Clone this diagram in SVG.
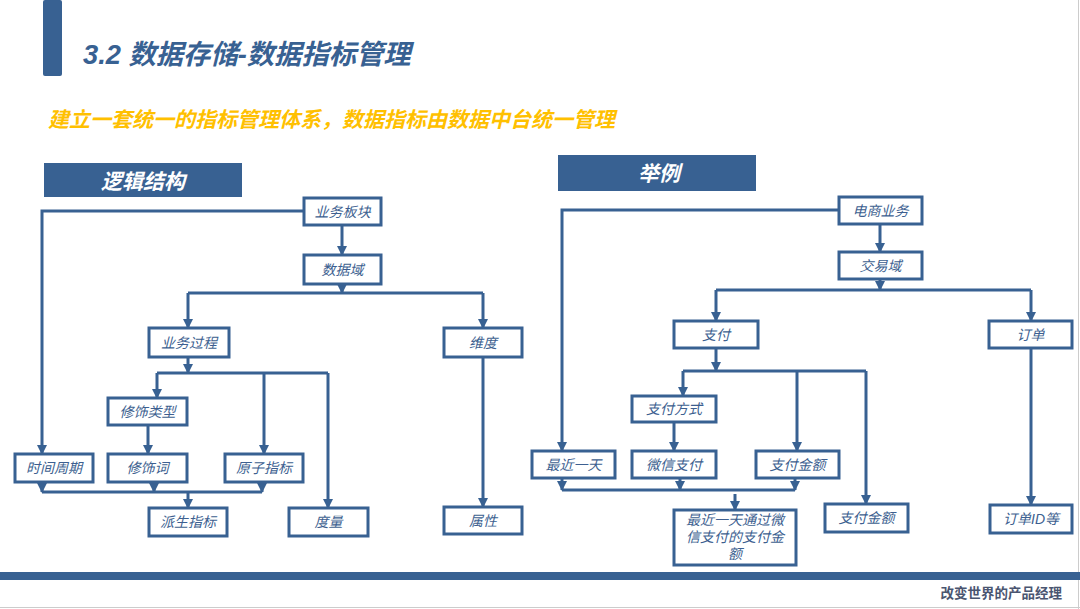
<svg xmlns="http://www.w3.org/2000/svg" width="1080" height="609" viewBox="0 0 1080 609">
<defs>
<marker id="ah" markerUnits="userSpaceOnUse" markerWidth="10" markerHeight="10" viewBox="0 0 10 10" refX="9" refY="5" orient="auto">
<path d="M0,0 L10,5 L0,10 z" fill="#386192"/>
</marker>
<style>
.box{fill:#fff;stroke:#386192;stroke-width:3}
.lbl{font-family:"Liberation Sans","Noto Sans CJK SC",sans-serif;font-size:14px;font-style:italic;fill:#3d5f90;text-anchor:middle;dominant-baseline:central}
.c{fill:none;stroke:#386192;stroke-width:3}
.a{fill:none;stroke:#386192;stroke-width:3;marker-end:url(#ah)}
.hdr{fill:#386192}
.hdrt{font-family:"Liberation Sans","Noto Sans CJK SC",sans-serif;font-size:21px;font-weight:bold;font-style:italic;fill:#fff;text-anchor:middle;dominant-baseline:central}
</style>
</defs>
<rect width="1080" height="609" fill="#fff"/>
<line x1="1078.5" y1="0" x2="1078.5" y2="609" stroke="#cccccc" stroke-width="1"/>
<line x1="0" y1="607.5" x2="1080" y2="607.5" stroke="#cccccc" stroke-width="1"/>
<rect x="43" y="0" width="19" height="76" rx="2" fill="#386192"/>
<text x="83" y="64" font-family="'Liberation Sans','Noto Sans CJK SC',sans-serif" font-size="27.3" font-weight="bold" font-style="italic" fill="#386192">3.2 数据存储-数据指标管理</text>
<text x="48" y="127" font-family="'Liberation Sans','Noto Sans CJK SC',sans-serif" font-size="21" font-weight="bold" font-style="italic" fill="#FFC000">建立一套统一的指标管理体系，数据指标由数据中台统一管理</text>
<g id="hdr-left"><rect class="hdr" x="44" y="163" width="198" height="34"/><text class="hdrt" x="143" y="181">逻辑结构</text></g>
<g id="hdr-right"><rect class="hdr" x="558" y="155" width="198" height="36"/><text class="hdrt" x="659" y="173">举例</text></g>
<rect x="0" y="572" width="1080" height="8" fill="#386192"/>
<text x="1062" y="598" text-anchor="end" font-family="'Noto Sans CJK SC',sans-serif" font-size="13.5" font-weight="bold" fill="#4a5570">改变世界的产品经理</text>
<g id="connectors">
<path class="a" d="M304,211 H42 V454"/>
<path class="a" d="M342,225 V255"/>
<path class="a" d="M342,284 V293"/>
<path class="c" d="M188,293 H483"/>
<path class="a" d="M188,293 V328"/>
<path class="a" d="M483,293 V328"/>
<path class="a" d="M188,357 V373"/>
<path class="c" d="M157,373 H328"/>
<path class="a" d="M157,373 V398"/>
<path class="a" d="M264,373 V454"/>
<path class="a" d="M328,373 V508"/>
<path class="a" d="M148,425 V454"/>
<path class="a" d="M42,482 V492"/>
<path class="a" d="M154,482 V492"/>
<path class="a" d="M262,482 V492"/>
<path class="c" d="M42,492 H262"/>
<path class="a" d="M188,492 V508"/>
<path class="a" d="M483,357 V507"/>
<path class="a" d="M839,210 H562 V451"/>
<path class="a" d="M880,224 V252"/>
<path class="a" d="M880,279 V290"/>
<path class="c" d="M716,290 H1031"/>
<path class="a" d="M716,290 V321"/>
<path class="a" d="M1031,290 V321"/>
<path class="a" d="M716,348 V371"/>
<path class="c" d="M683,371 H866"/>
<path class="a" d="M683,371 V396"/>
<path class="a" d="M797,371 V451"/>
<path class="a" d="M866,371 V504"/>
<path class="a" d="M674,422 V451"/>
<path class="a" d="M562,478 V490"/>
<path class="a" d="M680,478 V490"/>
<path class="a" d="M795,478 V490"/>
<path class="c" d="M562,490 H795"/>
<path class="a" d="M735,494 V510"/>
<path class="a" d="M1031,348 V505"/>
</g>
<g id="n-ywbk"><rect class="box" x="304" y="198" width="77" height="27"/><text class="lbl" x="342.5" y="211.5">业务板块</text></g>
<g id="n-sjy"><rect class="box" x="304" y="255" width="77" height="29"/><text class="lbl" x="342.5" y="269.5">数据域</text></g>
<g id="n-ywgc"><rect class="box" x="149" y="328" width="80" height="29"/><text class="lbl" x="189" y="342.5">业务过程</text></g>
<g id="n-wd"><rect class="box" x="444" y="328" width="78" height="29"/><text class="lbl" x="483" y="342.5">维度</text></g>
<g id="n-xslx"><rect class="box" x="108" y="398" width="79" height="27"/><text class="lbl" x="147.5" y="411.5">修饰类型</text></g>
<g id="n-sjzq"><rect class="box" x="15" y="454" width="78" height="28"/><text class="lbl" x="54" y="468">时间周期</text></g>
<g id="n-xsc"><rect class="box" x="108" y="454" width="79" height="28"/><text class="lbl" x="147.5" y="468">修饰词</text></g>
<g id="n-yzzb"><rect class="box" x="225" y="454" width="78" height="28"/><text class="lbl" x="264" y="468">原子指标</text></g>
<g id="n-pszb"><rect class="box" x="149" y="508" width="78" height="28"/><text class="lbl" x="188" y="522">派生指标</text></g>
<g id="n-dl"><rect class="box" x="289" y="508" width="79" height="28"/><text class="lbl" x="328.5" y="522">度量</text></g>
<g id="n-sx"><rect class="box" x="444" y="507" width="78" height="27"/><text class="lbl" x="483" y="520.5">属性</text></g>
<g id="n-dsyw"><rect class="box" x="839" y="197" width="83" height="27"/><text class="lbl" x="880.5" y="210.5">电商业务</text></g>
<g id="n-jyy"><rect class="box" x="839" y="252" width="83" height="27"/><text class="lbl" x="880.5" y="265.5">交易域</text></g>
<g id="n-zf"><rect class="box" x="674" y="321" width="84" height="27"/><text class="lbl" x="716" y="334.5">支付</text></g>
<g id="n-dd"><rect class="box" x="989" y="321" width="83" height="27"/><text class="lbl" x="1030.5" y="334.5">订单</text></g>
<g id="n-zffs"><rect class="box" x="632" y="396" width="84" height="26"/><text class="lbl" x="674" y="409">支付方式</text></g>
<g id="n-zjyt"><rect class="box" x="532" y="451" width="83" height="27"/><text class="lbl" x="573.5" y="464.5">最近一天</text></g>
<g id="n-wxzf"><rect class="box" x="632" y="451" width="84" height="27"/><text class="lbl" x="674" y="464.5">微信支付</text></g>
<g id="n-zfje1"><rect class="box" x="756" y="451" width="83" height="27"/><text class="lbl" x="797.5" y="464.5">支付金额</text></g>
<g id="n-zfje2"><rect class="box" x="825" y="504" width="83" height="28"/><text class="lbl" x="866.5" y="518">支付金额</text></g>
<g id="n-ddid"><rect class="box" x="990" y="505" width="82" height="28"/><text class="lbl" x="1031" y="519">订单ID等</text></g>
<g id="n-hz"><rect class="box" x="674" y="510" width="122" height="55"/><text class="lbl" x="735" y="520">最近一天通过微</text><text class="lbl" x="735" y="537">信支付的支付金</text><text class="lbl" x="735" y="554">额</text></g>
</svg>
